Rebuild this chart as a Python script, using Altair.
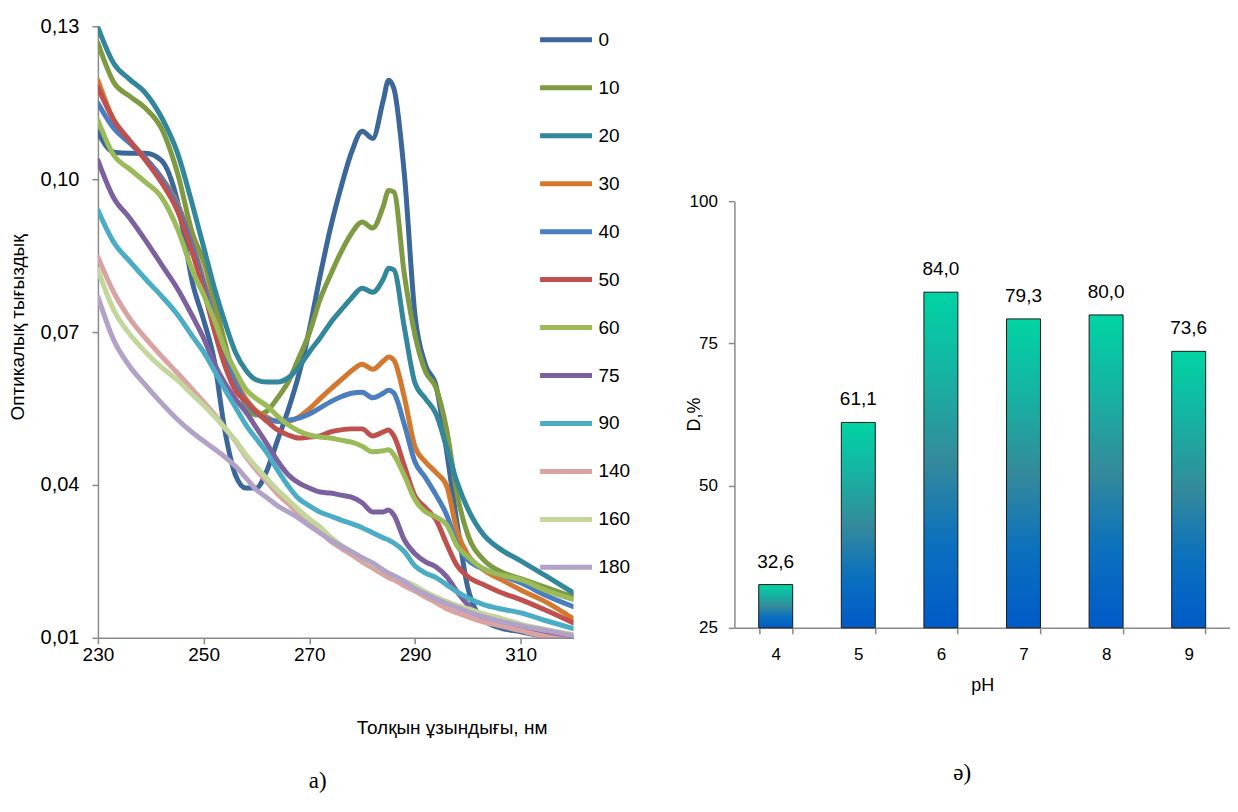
import altair as alt
import pandas as pd

# ---------------- left chart data: absorbance spectra ----------------
wavelength = [230, 233, 236, 239, 242, 245, 248, 250, 252, 254, 256, 258, 260, 262, 264,
              266, 268, 270, 272, 274, 276, 278, 280, 282, 284, 285, 286, 288, 290, 292,
              294, 296, 298, 300, 303, 306, 310, 315, 320]

t0 = [0.1092, 0.1053, 0.1051, 0.1051, 0.1037, 0.0959, 0.0792, 0.0724, 0.0645, 0.0508,
      0.0420, 0.0394, 0.0394, 0.0429, 0.0488, 0.0547, 0.0616, 0.0704, 0.0808, 0.0904,
      0.0984, 0.1053, 0.1094, 0.1080, 0.1155, 0.1194, 0.1178, 0.1008, 0.0733, 0.0635,
      0.0594, 0.0465, 0.0322, 0.0198, 0.0135, 0.0120, 0.0112, 0.0102, 0.0096]
t10 = [0.1267, 0.1190, 0.1163, 0.1139, 0.1100, 0.1014, 0.0890, 0.0839, 0.0763, 0.0680,
       0.0606, 0.0555, 0.0537, 0.0545, 0.0571, 0.0602, 0.0649, 0.0698, 0.0763, 0.0812,
       0.0857, 0.0894, 0.0916, 0.0904, 0.0947, 0.0978, 0.0975, 0.0812, 0.0694, 0.0622,
       0.0590, 0.0508, 0.0380, 0.0302, 0.0253, 0.0231, 0.0216, 0.0198, 0.0180]
t20 = [0.1298, 0.1227, 0.1196, 0.1169, 0.1122, 0.1053, 0.0945, 0.0867, 0.0788, 0.0720,
       0.0661, 0.0625, 0.0606, 0.0602, 0.0602, 0.0610, 0.0631, 0.0661, 0.0688, 0.0718,
       0.0743, 0.0767, 0.0786, 0.0778, 0.0804, 0.0825, 0.0822, 0.0708, 0.0600, 0.0569,
       0.0539, 0.0473, 0.0404, 0.0353, 0.0302, 0.0275, 0.0251, 0.0220, 0.0188]
t30 = [0.1194, 0.1116, 0.1075, 0.1041, 0.1004, 0.0953, 0.0871, 0.0802, 0.0731, 0.0665,
       0.0606, 0.0569, 0.0545, 0.0533, 0.0525, 0.0525, 0.0533, 0.0549, 0.0569, 0.0588,
       0.0606, 0.0624, 0.0637, 0.0627, 0.0643, 0.0651, 0.0645, 0.0571, 0.0475, 0.0445,
       0.0424, 0.0398, 0.0308, 0.0263, 0.0233, 0.0216, 0.0194, 0.0169, 0.0137]
t40 = [0.1149, 0.1100, 0.1071, 0.1041, 0.1002, 0.0949, 0.0865, 0.0796, 0.0724, 0.0655,
       0.0600, 0.0563, 0.0541, 0.0529, 0.0525, 0.0527, 0.0531, 0.0539, 0.0551, 0.0563,
       0.0573, 0.0580, 0.0582, 0.0571, 0.0580, 0.0586, 0.0580, 0.0518, 0.0445, 0.0414,
       0.0380, 0.0341, 0.0282, 0.0253, 0.0235, 0.0224, 0.0208, 0.0182, 0.0161]
t50 = [0.1180, 0.1116, 0.1076, 0.1037, 0.0994, 0.0939, 0.0851, 0.0782, 0.0704, 0.0635,
       0.0586, 0.0565, 0.0543, 0.0525, 0.0508, 0.0498, 0.0492, 0.0494, 0.0496, 0.0504,
       0.0508, 0.0510, 0.0510, 0.0496, 0.0504, 0.0508, 0.0496, 0.0437, 0.0378, 0.0355,
       0.0331, 0.0284, 0.0241, 0.0220, 0.0204, 0.0190, 0.0175, 0.0153, 0.0129]
t60 = [0.1116, 0.1047, 0.1020, 0.0994, 0.0965, 0.0904, 0.0818, 0.0773, 0.0724, 0.0667,
       0.0624, 0.0588, 0.0569, 0.0555, 0.0535, 0.0518, 0.0506, 0.0498, 0.0494, 0.0492,
       0.0488, 0.0484, 0.0476, 0.0465, 0.0467, 0.0469, 0.0459, 0.0418, 0.0371, 0.0347,
       0.0337, 0.0322, 0.0280, 0.0259, 0.0235, 0.0224, 0.0214, 0.0192, 0.0175]
t75 = [0.1037, 0.0963, 0.0924, 0.0880, 0.0833, 0.0786, 0.0729, 0.0688, 0.0639, 0.0600,
       0.0569, 0.0543, 0.0512, 0.0480, 0.0447, 0.0420, 0.0404, 0.0394, 0.0386, 0.0384,
       0.0380, 0.0376, 0.0365, 0.0347, 0.0347, 0.0351, 0.0341, 0.0292, 0.0265, 0.0249,
       0.0239, 0.0220, 0.0190, 0.0165, 0.0141, 0.0129, 0.0118, 0.0106, 0.0100]
t90 = [0.0939, 0.0876, 0.0839, 0.0804, 0.0771, 0.0735, 0.0690, 0.0661, 0.0625, 0.0588,
       0.0553, 0.0518, 0.0490, 0.0463, 0.0429, 0.0398, 0.0373, 0.0359, 0.0347, 0.0339,
       0.0331, 0.0324, 0.0316, 0.0306, 0.0296, 0.0292, 0.0286, 0.0269, 0.0241, 0.0227,
       0.0218, 0.0204, 0.0190, 0.0178, 0.0165, 0.0157, 0.0149, 0.0133, 0.0118]
t140 = [0.0847, 0.0778, 0.0727, 0.0688, 0.0653, 0.0620, 0.0586, 0.0563, 0.0539, 0.0512,
        0.0486, 0.0455, 0.0429, 0.0406, 0.0382, 0.0363, 0.0343, 0.0325, 0.0308, 0.0290,
        0.0276, 0.0263, 0.0249, 0.0237, 0.0224, 0.0218, 0.0214, 0.0202, 0.0192, 0.0180,
        0.0169, 0.0157, 0.0149, 0.0141, 0.0131, 0.0124, 0.0114, 0.0102, 0.0094]
t160 = [0.0822, 0.0743, 0.0696, 0.0661, 0.0631, 0.0606, 0.0576, 0.0557, 0.0535, 0.0512,
        0.0488, 0.0459, 0.0435, 0.0412, 0.0390, 0.0371, 0.0351, 0.0333, 0.0318, 0.0298,
        0.0282, 0.0269, 0.0257, 0.0245, 0.0233, 0.0227, 0.0222, 0.0212, 0.0202, 0.0190,
        0.0180, 0.0171, 0.0163, 0.0157, 0.0147, 0.0139, 0.0127, 0.0116, 0.0106]
t180 = [0.0769, 0.0684, 0.0633, 0.0596, 0.0561, 0.0529, 0.0502, 0.0486, 0.0471, 0.0455,
        0.0437, 0.0414, 0.0390, 0.0375, 0.0359, 0.0347, 0.0335, 0.0320, 0.0306, 0.0292,
        0.0280, 0.0269, 0.0257, 0.0247, 0.0233, 0.0227, 0.0222, 0.0210, 0.0196, 0.0186,
        0.0176, 0.0167, 0.0159, 0.0151, 0.0141, 0.0133, 0.0124, 0.0114, 0.0104]

series_names = ["0", "10", "20", "30", "40", "50", "60", "75", "90", "140", "160", "180"]
series_values = [t0, t10, t20, t30, t40, t50, t60, t75, t90, t140, t160, t180]
series_colors = ["#3C679B", "#7E9B42", "#33879C", "#D5782F", "#4A7EBF", "#C0504D",
                 "#9BBB59", "#7D60A0", "#4BACC6", "#D9A3A1", "#C3D69B", "#B3A2C7"]

y_ticks = [0.01, 0.04, 0.07, 0.10, 0.13]
x_ticks = [230, 250, 270, 290, 310]

# ---------------- right chart data ----------------
ph_values = ["4", "5", "6", "7", "8", "9"]
d_values = [32.6, 61.1, 84.0, 79.3, 80.0, 73.6]
d_ticks = [25, 50, 75, 100]

rows = []
for name, vals in zip(series_names, series_values):
    for w, v in zip(wavelength, vals):
        rows.append({"wl": w, "A": v, "t": name})
df_spec = pd.DataFrame(rows)
df_bar = pd.DataFrame({"pH": ph_values, "D": d_values})

FONT = "Liberation Sans"
AXIS_GREY = "#8A8A8A"

left = alt.Chart(df_spec).mark_line(
    strokeWidth=5, interpolate="monotone", clip=True, strokeCap="round", strokeJoin="round"
).encode(
    x=alt.X("wl:Q",
            scale=alt.Scale(domain=[230, 320], nice=False, zero=False),
            axis=alt.Axis(values=x_ticks, title="Толқын ұзындығы, нм",
                          titleX=354, titleY=96, titleBaseline="alphabetic",
                          titleAnchor="middle", titleAlign="center",
                          labelFontSize=19, titleFontSize=19, labelFlush=False,
                          labelPadding=2, tickSize=6)),
    y=alt.Y("A:Q",
            scale=alt.Scale(domain=[0.01, 0.13], nice=False, zero=False),
            axis=alt.Axis(values=y_ticks,
                          labelExpr="replace(format(datum.value, '.2f'), '.', ',')",
                          title="Оптикалық тығыздық", titleAngle=-90,
                          titleX=-80, titleY=301, titleBaseline="middle",
                          titleAlign="center", labelFontSize=20, titleFontSize=19,
                          labelPadding=13, tickSize=6)),
    color=alt.Color("t:N", sort=series_names,
                    scale=alt.Scale(domain=series_names, range=series_colors),
                    legend=alt.Legend(title=None, orient="none", legendX=440, legendY=-15,
                                      symbolType="stroke", symbolSize=2700,
                                      symbolStrokeWidth=5, rowPadding=9,
                                      labelFontSize=19, labelFont=FONT, labelColor="#000",
                                      labelOffset=4, symbolLimit=0, padding=0)),
).properties(
    width=476, height=612,
    title=alt.TitleParams("а)", orient="bottom", anchor="middle", frame="group",
                          font="Liberation Serif", fontSize=23, fontWeight="normal",
                          color="#000", dx=-18, offset=32),
)

gradient = alt.Gradient(
    gradient="linear", x1=0, x2=0, y1=0, y2=1,
    stops=[alt.GradientStop(color="#00D4A4", offset=0),
           alt.GradientStop(color="#16B2A2", offset=0.25),
           alt.GradientStop(color="#348A9B", offset=0.5),
           alt.GradientStop(color="#0B70BE", offset=0.75),
           alt.GradientStop(color="#005AC8", offset=1)])

base_r = alt.Chart(df_bar).encode(
    x=alt.X("pH:O", sort=ph_values,
            scale=alt.Scale(paddingInner=0.6, paddingOuter=0.3),
            axis=alt.Axis(title="pH", tickBand="extent", labelAngle=0, labelPadding=13,
                          labelFontSize=17, titleFontSize=18,
                          tickSize=6, titleY=63, titleBaseline="alphabetic")),
    y=alt.Y("D:Q",
            scale=alt.Scale(domain=[25, 100], range=[602, 175], nice=False, zero=False),
            axis=alt.Axis(values=d_ticks, title="D,%", titleAngle=-90, titleX=-40,
                          titleY=388, titleBaseline="middle", titleAlign="center",
                          labelFontSize=17, titleFontSize=18,
                          labelPadding=11, tickSize=6)),
)
bars = base_r.mark_bar(size=34, fill=gradient, stroke="#1A1A1A", strokeWidth=1).encode(
    y2=alt.datum(25))
labels = base_r.transform_calculate(
    lab="replace(format(datum.D, '.1f'), '.', ',')"
).mark_text(baseline="middle", dy=-23, fontSize=19, font=FONT, color="#000").encode(
    text="lab:N")

right = alt.layer(bars, labels).properties(
    width=496, height=602,
    title=alt.TitleParams("ә)", orient="bottom", anchor="middle", frame="group",
                          font="Liberation Serif", fontSize=23, fontWeight="normal",
                          color="#000", dx=-20, offset=67),
)

chart = alt.hconcat(left, right, spacing=55).resolve_scale(
    x="independent", y="independent", color="independent"
).properties(
    padding={"left": 1, "top": 3, "right": 0, "bottom": 0}
).configure_view(stroke=None).configure_axis(
    grid=False, labelFont=FONT, labelColor="#000",
    titleFont=FONT, titleFontWeight="normal", titleColor="#000",
    domainColor=AXIS_GREY, tickColor=AXIS_GREY, domainWidth=1.5, tickWidth=1.5,
)

chart.save("out.html", embed_options={"renderer": "svg", "actions": False})
